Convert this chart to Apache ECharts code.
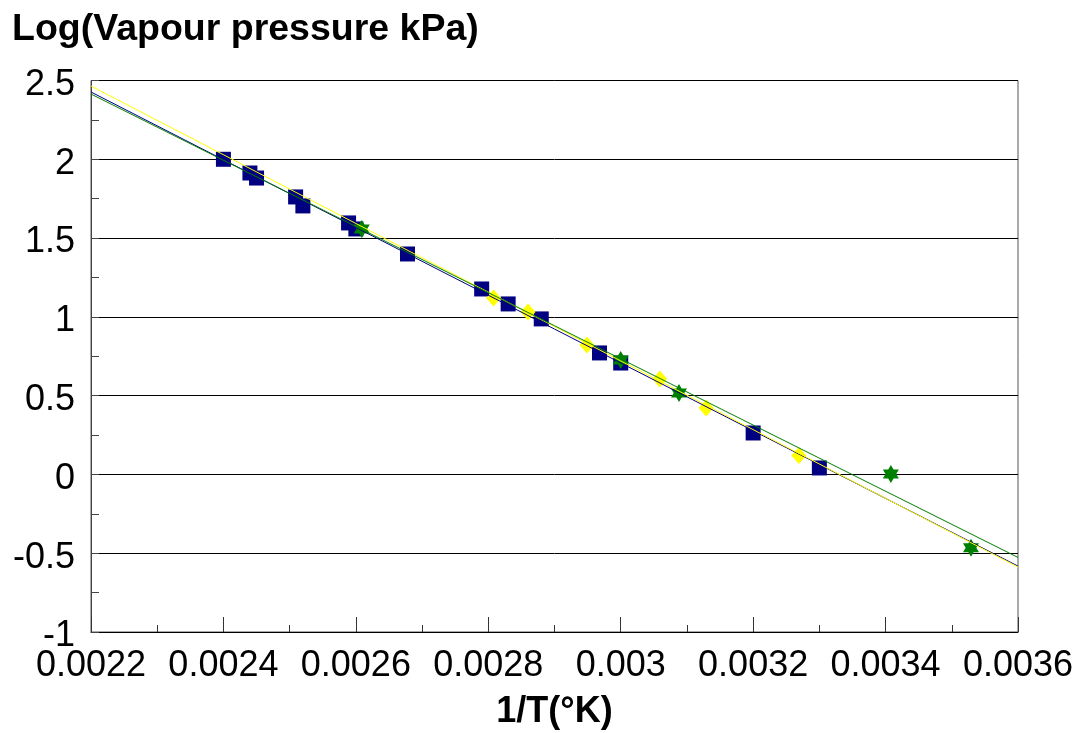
<!DOCTYPE html>
<html>
<head>
<meta charset="utf-8">
<script src="https://cdn.jsdelivr.net/npm/echarts@6/dist/echarts.min.js"></script>
<style>
html,body{margin:0;padding:0;background:#fff;}
#chart{width:1080px;height:733px;}
</style>
</head>
<body>
<div id="chart"></div>
<script>
// Navy squares
const squareX = [0.0024, 0.00244, 0.00245, 0.002509, 0.00252, 0.002589, 0.0026, 0.002678, 0.00279, 0.00283, 0.00288, 0.002968, 0.003, 0.0032, 0.0033];
const squareY = [2.0, 1.913, 1.881, 1.761, 1.704, 1.596, 1.558, 1.399, 1.177, 1.082, 0.987, 0.771, 0.707, 0.263, 0.041];
// Yellow diamonds
const diamondX = [0.002808, 0.00286, 0.002949, 0.003059, 0.003129, 0.003269];
const diamondY = [1.12, 1.031, 0.822, 0.606, 0.422, 0.12];
// Green stars
const starX = [0.002609, 0.003, 0.003088, 0.003408, 0.003529];
const starY = [1.558, 0.726, 0.517, 0.003, -0.466];
// Trend lines (endpoints read at axis limits)
const trendX = [0.0022, 0.0036];
const trendBlue = [2.427, -0.582];
const trendYellow = [2.465, -0.588];
const trendGreen = [2.414, -0.527];
// Axis ticks
const xMin = 0.0022, xMax = 0.0036, xStep = 0.0002;
const yMin = -1, yMax = 2.5, yStep = 0.5;

const pairs = (xs, ys) => xs.map((x, i) => [x, ys[i]]);
const star = 'path://M0,-100 L28.87,-50 L86.6,-50 L57.7,0 L86.6,50 L28.87,50 L0,100 L-28.87,50 L-86.6,50 L-57.7,0 L-86.6,-50 L-28.87,-50 Z';

const chart = echarts.init(document.getElementById('chart'), null, {renderer: 'canvas'});
chart.setOption({
  animation: false,
  backgroundColor: '#fff',
  title: {
    text: 'Log(Vapour pressure kPa)',
    left: 7, top: 6,
    textStyle: {fontFamily: 'Liberation Sans', fontSize: 37.5, fontWeight: 'bold', color: '#000'}
  },
  grid: {left: 91, right: 62, top: 80.5, bottom: 101, outerBoundsMode: 'none', containLabel: false,
    show: true, borderColor: '#555', borderWidth: 1, backgroundColor: 'transparent'},
  xAxis: {
    type: 'value', min: xMin, max: xMax, interval: xStep,
    name: '1/T(°K)', nameLocation: 'middle', nameGap: 62,
    nameTextStyle: {fontFamily: 'Liberation Sans', fontSize: 36, fontWeight: 'bold', color: '#000'},
    axisLine: {show: true, onZero: false, lineStyle: {color: '#000', width: 1}},
    axisTick: {show: true, inside: true, length: 15, lineStyle: {color: '#333'}},
    minorTick: {show: true, splitNumber: 2, length: 7, lineStyle: {color: '#333'}},
    axisLabel: {fontFamily: 'Liberation Sans', fontSize: 36, color: '#000', margin: 16,
      formatter: v => String(parseFloat(v.toFixed(6)))},
    splitLine: {show: false}
  },
  yAxis: {
    type: 'value', min: yMin, max: yMax, interval: yStep,
    axisLine: {show: true, onZero: false, lineStyle: {color: '#444', width: 1}},
    axisTick: {show: true, inside: true, length: 8, lineStyle: {color: '#444'}},
    minorTick: {show: true, splitNumber: 2, length: 8, lineStyle: {color: '#444'}},
    axisLabel: {fontFamily: 'Liberation Sans', fontSize: 36, color: '#000', margin: 16,
      formatter: v => '{a|' + v + '}',
      rich: {a: {fontFamily: 'Liberation Sans', fontSize: 36, color: '#000', padding: [9, 0, 0, 0]}}},
    splitLine: {show: true, lineStyle: {color: '#000', width: 1}}
  },
  series: [
    {type: 'scatter', name: 'squares', data: pairs(squareX, squareY), symbol: 'rect', symbolSize: 15,
      itemStyle: {color: '#000080', opacity: 1}, z: 2},
    {type: 'scatter', name: 'diamonds', data: pairs(diamondX, diamondY), symbol: 'diamond', symbolSize: [15, 17],
      itemStyle: {color: '#FFFF00', opacity: 1}, z: 2},
    {type: 'scatter', name: 'stars', data: pairs(starX, starY), symbol: star, symbolSize: [16, 18],
      itemStyle: {color: '#008000', opacity: 1}, z: 2},
    {type: 'line', data: pairs(trendX, trendBlue), showSymbol: false, lineStyle: {color: '#000080', width: 1}, z: 3},
    {type: 'line', data: pairs(trendX, trendYellow), showSymbol: false, lineStyle: {color: '#FFFF00', width: 1}, z: 3},
    {type: 'line', data: pairs(trendX, trendGreen), showSymbol: false, lineStyle: {color: '#008000', width: 1}, z: 3}
  ]
});
</script>
</body>
</html>
